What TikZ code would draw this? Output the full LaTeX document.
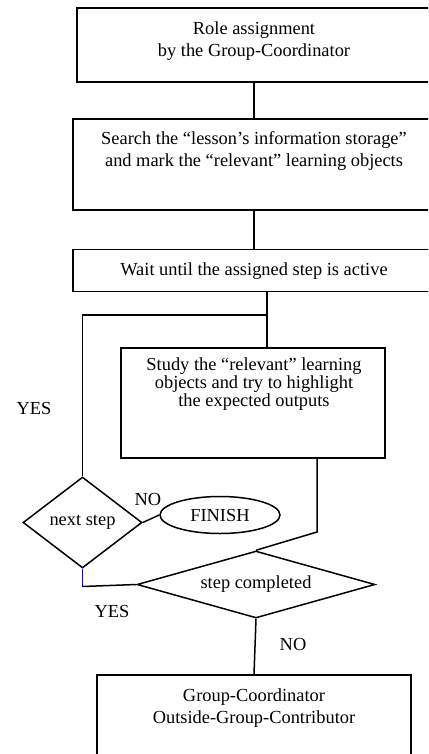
\documentclass[tikz,border=0pt]{standalone}
\usepackage{fontspec}
\setmainfont{Liberation Serif}
\usetikzlibrary{shapes.geometric}
\begin{document}
\begin{tikzpicture}[x=1pt,y=-1pt,
  every node/.style={font=\fontsize{18.4}{22}\selectfont},
  box/.style={draw,line width=1.5pt,rectangle,inner sep=0pt},
  txt/.style={align=center,inner sep=0pt},
  dia/.style={draw,line width=1.5pt,diamond,inner sep=0pt},
  lnk/.style={line width=1.5pt},
  lab/.style={inner sep=0pt}]
\useasboundingbox (0,0) rectangle (428,754);
\clip (0,0) rectangle (428,754);
\fill[white] (0,0) rectangle (428,754);
% boxes
\node[box,minimum width=354pt,minimum height=74pt] (b1) at (254,45) {};
\node[txt] at (254,41.5) {Role assignment\\by the Group-Coordinator};
\node[box,minimum width=362pt,minimum height=91pt] (b2) at (254,164.5) {};
\node[txt] at (254,151.5) {Search the ``lesson’s information storage''\\and mark the ``relevant'' learning objects};
\node[box,minimum width=362pt,minimum height=42pt] (b3) at (254,270.5) {};
\node[txt] at (254,271) {Wait until the assigned step is active};
\node[box,minimum width=264pt,minimum height=110pt] (b4) at (253,403) {};
\node[txt,font=\fontsize{18.4}{18.4}\selectfont] at (254,384) {Study the ``relevant'' learning\\objects and try to highlight\\the expected outputs};
\node[box,minimum width=314pt,minimum height=100pt] (b5) at (254,725) {};
\node[txt] at (254,708) {Group-Coordinator\\Outside-Group-Contributor};
% decisions
\node[dia,minimum width=119pt,minimum height=91pt] (ns) at (82.5,522.5) {next step};
\node[dia,minimum width=238pt,minimum height=67pt,shape aspect=3.5] (sc) at (256,584.5) {step completed};
\node[draw,line width=1.5pt,ellipse,inner sep=0pt,minimum width=120pt,minimum height=37pt] (fin) at (220,515) {FINISH};
% labels
\node[lab] (yes1) at (34,408) {YES};
\node[lab] (no1) at (148,499) {NO};
\node[lab] (yes2) at (112,611) {YES};
\node[lab] (no2) at (293,644) {NO};
% connectors
\draw[lnk] (b1.south) -- (b2.north);
\draw[lnk] (b2.south) -- (b3.north);
\coordinate (j) at (267,315);
\draw[lnk] (j |- b3.south) -- (j |- b4.north);
\draw[lnk] (j) -| (ns.north);
\coordinate (k) at (317,532);
\draw[lnk] (k |- b4.south) -- (k) -- (sc.north);
\draw[lnk] (ns.east) -- (fin.west);
\coordinate (m) at (82.5,586.5);
\draw[lnk,blue] (ns.south) -- (m);
\draw[lnk] (m) -- (sc.west);
\draw[lnk] (sc.south) -- (b5.north);
\end{tikzpicture}
\end{document}
